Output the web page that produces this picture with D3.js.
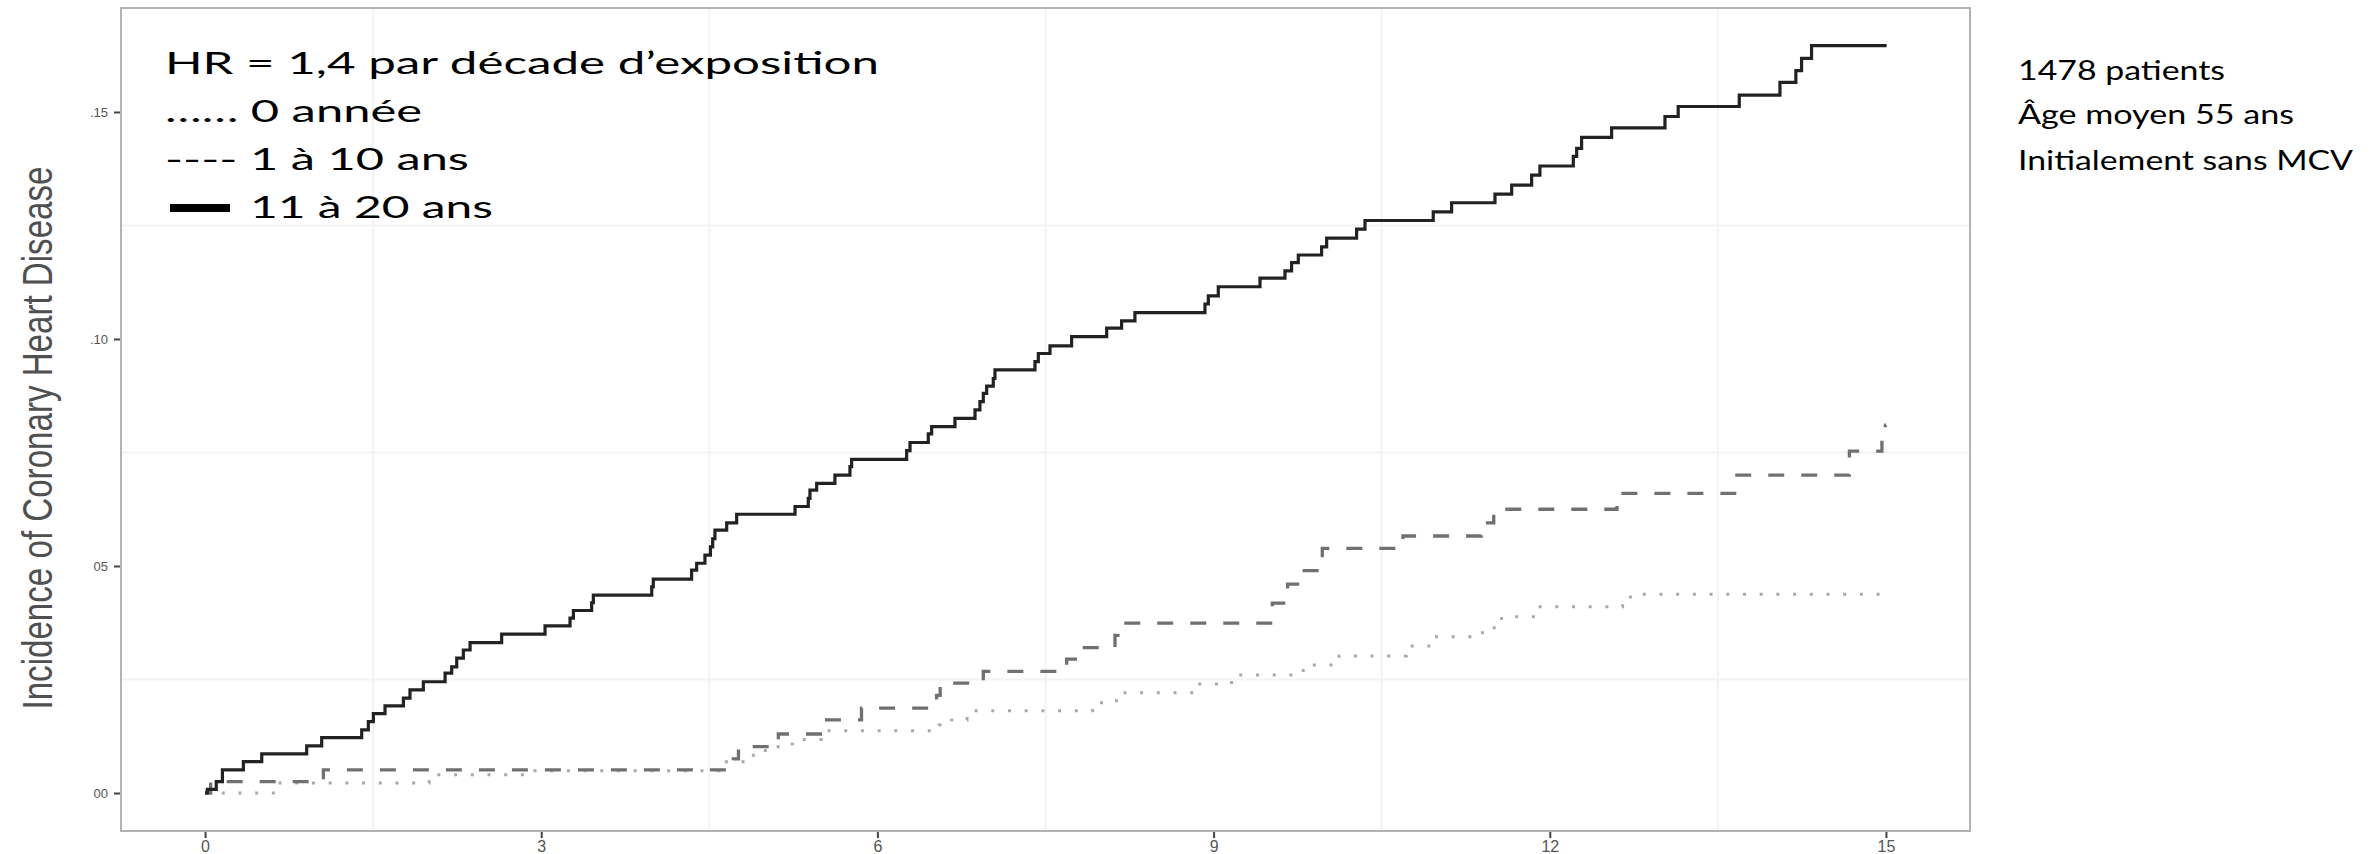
<!DOCTYPE html>
<html>
<head>
<meta charset="utf-8">
<script src="https://cdn.jsdelivr.net/npm/d3@7"></script>
<style>
  html, body { margin: 0; padding: 0; background: #ffffff; }
  svg { display: block; }
</style>
</head>
<body>
<svg id="chart" width="2374" height="854"></svg>
<script>
// Cumulative incidence of coronary heart disease by duration of exposure
// Step curves: follow-up time (years) and cumulative incidence at each event.

// 0 année (no exposure) — dotted
const timeNone = [0, 0.65, 2.00, 2.87, 4.62, 4.85, 5.00, 5.24, 5.50, 6.55, 6.63, 6.80, 7.92, 8.00, 8.21, 8.85, 9.16, 9.80, 10.12, 10.72, 10.94, 11.40, 11.57, 11.875, 12.65, 12.72, 15.0];
const incNone  = [0, 0.0022, 0.0040, 0.0049, 0.0069, 0.0083, 0.0102, 0.0118, 0.0137, 0.0150, 0.0161, 0.0181, 0.0192, 0.0203, 0.0221, 0.0240, 0.0260, 0.0282, 0.0302, 0.0324, 0.0344, 0.0364, 0.0388, 0.0410, 0.0427, 0.0438, 0.0438];

// 1 à 10 ans — dashed
const timeShort = [0, 0.05, 1.056, 4.714, 4.760, 5.116, 5.547, 5.858, 6.528, 6.560, 6.945, 7.689, 7.822, 8.120, 8.165, 9.524, 9.660, 9.790, 9.970, 10.690, 11.388, 11.500, 12.600, 13.650, 14.674, 14.964, 14.995, 15.0];
const incShort  = [0, 0.0025, 0.0051, 0.0075, 0.0102, 0.0130, 0.0161, 0.0187, 0.0215, 0.0242, 0.0268, 0.0295, 0.0320, 0.0347, 0.0374, 0.0418, 0.0460, 0.0490, 0.0539, 0.0566, 0.0595, 0.0625, 0.0660, 0.0700, 0.0753, 0.0785, 0.0810, 0.0810];

// 11 à 20 ans — solid
const timeLong = [0, 0.02, 0.10, 0.155, 0.342, 0.506, 0.907, 1.041, 1.398, 1.457, 1.502, 1.606, 1.770, 1.829, 1.948, 2.142, 2.201, 2.246, 2.305, 2.365, 2.647, 3.034, 3.257, 3.287, 3.450, 3.465, 3.986, 4.000, 4.342, 4.387, 4.461, 4.510, 4.530, 4.550, 4.655, 4.744, 5.265, 5.383, 5.398, 5.458, 5.621, 5.755, 5.770, 6.261, 6.291, 6.454, 6.484, 6.692, 6.871, 6.915, 6.945, 6.975, 7.034, 7.049, 7.406, 7.436, 7.540, 7.733, 8.046, 8.179, 8.298, 8.923, 8.953, 9.042, 9.414, 9.637, 9.696, 9.756, 9.964, 10.009, 10.276, 10.351, 10.960, 11.124, 11.511, 11.660, 11.838, 11.912, 12.210, 12.240, 12.284, 12.552, 13.028, 13.146, 13.691, 14.054, 14.196, 14.247, 14.336, 15.006];
const incLong  = [0, 0.0008, 0.0025, 0.0051, 0.0069, 0.0086, 0.0104, 0.0122, 0.0139, 0.0157, 0.0175, 0.0192, 0.0209, 0.0227, 0.0245, 0.0264, 0.0278, 0.0297, 0.0315, 0.0331, 0.0350, 0.0368, 0.0385, 0.0402, 0.0419, 0.0436, 0.0454, 0.0471, 0.0491, 0.0506, 0.0524, 0.0542, 0.0560, 0.0579, 0.0595, 0.0614, 0.0631, 0.0649, 0.0667, 0.0682, 0.0700, 0.0719, 0.0735, 0.0754, 0.0772, 0.0791, 0.0807, 0.0825, 0.0844, 0.0862, 0.0880, 0.0896, 0.0913, 0.0932, 0.0950, 0.0968, 0.0985, 0.1005, 0.1024, 0.1040, 0.1058, 0.1077, 0.1095, 0.1115, 0.1134, 0.1150, 0.1168, 0.1185, 0.1203, 0.1222, 0.1242, 0.1261, 0.1280, 0.1300, 0.1319, 0.1339, 0.1361, 0.1381, 0.1402, 0.1420, 0.1444, 0.1465, 0.1490, 0.1512, 0.1537, 0.1565, 0.1591, 0.1618, 0.1646, 0.1646];

// Axis ticks
const xTicks = [0, 3, 6, 9, 12, 15];
const xTickLabels = ["0", "3", "6", "9", "12", "15"];
const yTicks = [0, 0.05, 0.10, 0.15];
const yTickLabels = ["00", "05", ".10", ".15"];
const xMinorGrid = [1.5, 4.5, 7.5, 10.5, 13.5];
const yMinorGrid = [0.025, 0.075, 0.125];

// Text
const yTitle = "Incidence of Coronary Heart Disease";
const legendTitle = "HR = 1,4 par décade d\u2019exposition";
const legendLabels = ["\u2026\u2026 0 année", "----  1 à 10 ans", "11 à 20 ans"];
const noteLines = ["1478 patients", "Âge moyen 55 ans", "Initialement sans MCV"];

const svg = d3.select("#chart");

const panel = { left: 121, right: 1970, top: 8, bottom: 831 };
const x = d3.scaleLinear().domain([-0.75, 15.75]).range([panel.left, panel.right]);
const y = d3.scaleLinear().domain([-0.00837, 0.1729]).range([panel.bottom, panel.top]);

// Panel background and faint grid
svg.append("rect")
  .attr("x", panel.left).attr("y", panel.top)
  .attr("width", panel.right - panel.left).attr("height", panel.bottom - panel.top)
  .attr("fill", "#ffffff");

const grid = svg.append("g").attr("stroke", "#f3f3f3").attr("stroke-width", 2);
grid.selectAll("line.v").data(xMinorGrid).join("line")
  .attr("x1", d => x(d)).attr("x2", d => x(d))
  .attr("y1", panel.top).attr("y2", panel.bottom);
grid.selectAll("line.h").data(yMinorGrid).join("line")
  .attr("y1", d => y(d)).attr("y2", d => y(d))
  .attr("x1", panel.left).attr("x2", panel.right);

// Step curves
const step = d3.line()
  .x(d => x(d[0]))
  .y(d => y(d[1]))
  .curve(d3.curveStepAfter);

const series = [
  { t: timeNone,  v: incNone,  color: "#a9a9a9", width: 3,   dash: "3 13.7" },
  { t: timeShort, v: incShort, color: "#707070", width: 3.3, dash: "16 17" },
  { t: timeLong,  v: incLong,  color: "#222222", width: 3.2, dash: null }
];

series.forEach(s => {
  const pts = s.t.map((t, i) => [t, s.v[i]]);
  svg.append("path")
    .datum(pts)
    .attr("d", step)
    .attr("fill", "none")
    .attr("stroke", s.color)
    .attr("stroke-width", s.width)
    .attr("stroke-dasharray", s.dash)
    .attr("stroke-linejoin", "miter");
});

// Panel border
svg.append("rect")
  .attr("x", panel.left).attr("y", panel.top)
  .attr("width", panel.right - panel.left).attr("height", panel.bottom - panel.top)
  .attr("fill", "none")
  .attr("stroke", "#b3b3b3")
  .attr("stroke-width", 2);

// Axes
const yAxis = svg.append("g")
  .attr("transform", `translate(${panel.left - 1},0)`)
  .call(d3.axisLeft(y).tickValues(yTicks).tickFormat((d, i) => yTickLabels[i]).tickSize(6).tickPadding(6));
yAxis.select(".domain").remove();
yAxis.selectAll(".tick line").attr("stroke", "#444").attr("stroke-width", 2);
yAxis.selectAll(".tick text")
  .attr("font-family", "Liberation Sans, Arial, sans-serif")
  .attr("font-size", 13)
  .attr("fill", "#555");

const xAxis = svg.append("g")
  .attr("transform", `translate(0,${panel.bottom + 1})`)
  .call(d3.axisBottom(x).tickValues(xTicks).tickFormat((d, i) => xTickLabels[i]).tickSize(6).tickPadding(3));
xAxis.select(".domain").remove();
xAxis.selectAll(".tick line").attr("stroke", "#444").attr("stroke-width", 2);
xAxis.selectAll(".tick text")
  .attr("font-family", "Liberation Sans, Arial, sans-serif")
  .attr("font-size", 16)
  .attr("fill", "#555");

// Y axis title
svg.append("text")
  .attr("transform", "translate(52,438) rotate(-90)")
  .attr("text-anchor", "middle")
  .attr("font-family", "Liberation Sans Narrow, Liberation Sans, Arial, sans-serif")
  .attr("font-size", 42)
  .attr("fill", "#505050")
  .attr("textLength", 543)
  .attr("lengthAdjust", "spacingAndGlyphs")
  .text(yTitle);

// Legend block
const legendFont = "Lato, Carlito, Calibri, sans-serif";
svg.append("text")
  .attr("x", 165).attr("y", 74)
  .attr("font-family", legendFont).attr("font-size", 31).attr("fill", "#000")
  .attr("textLength", 714).attr("lengthAdjust", "spacingAndGlyphs")
  .text(legendTitle);
svg.append("text")
  .attr("x", 165).attr("y", 122)
  .attr("font-family", legendFont).attr("font-size", 31).attr("fill", "#000")
  .attr("textLength", 257).attr("lengthAdjust", "spacingAndGlyphs")
  .text(legendLabels[0]);
svg.append("text")
  .attr("x", 165).attr("y", 170)
  .attr("font-family", legendFont).attr("font-size", 31).attr("fill", "#000")
  .attr("textLength", 304).attr("lengthAdjust", "spacingAndGlyphs")
  .text(legendLabels[1]);
svg.append("rect")
  .attr("x", 170).attr("y", 204).attr("width", 60).attr("height", 8)
  .attr("fill", "#000");
svg.append("text")
  .attr("x", 250).attr("y", 218)
  .attr("font-family", legendFont).attr("font-size", 31).attr("fill", "#000")
  .attr("textLength", 243).attr("lengthAdjust", "spacingAndGlyphs")
  .text(legendLabels[2]);

// Study note on the right
const noteBase = [80, 124, 170];
const noteLen = [207, 276, 335];
noteLines.forEach((t, i) => {
  svg.append("text")
    .attr("x", 2018).attr("y", noteBase[i])
    .attr("font-family", legendFont).attr("font-size", 26).attr("fill", "#000")
    .attr("textLength", noteLen[i]).attr("lengthAdjust", "spacingAndGlyphs")
    .text(t);
});
</script>
</body>
</html>
